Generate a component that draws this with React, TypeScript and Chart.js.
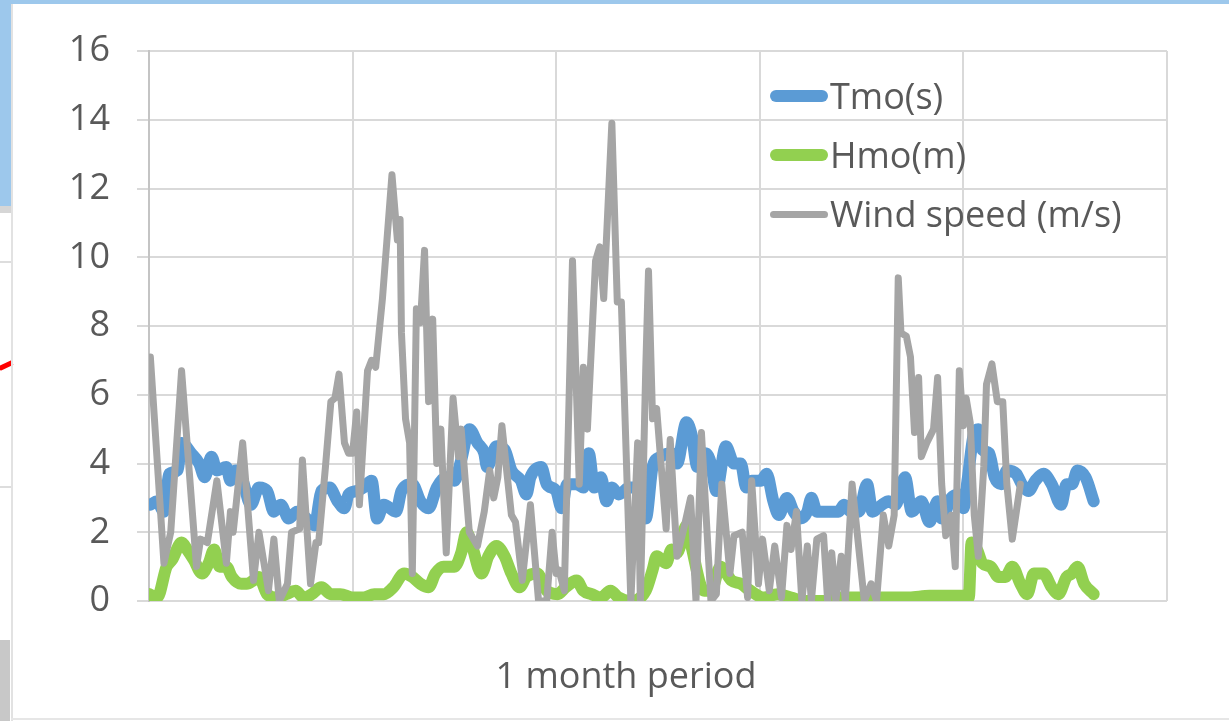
import React, { useEffect, useRef } from "react";
import { Chart, registerables } from "chart.js";

Chart.register(...registerables);

// Hours into the month (0..750) and the measured values at those times
const windHours = [1, 11, 16, 24, 35, 38, 43, 50, 57, 60, 62, 69, 77, 81, 88, 92, 96, 102, 105, 111, 113, 119, 123, 125, 130, 134, 137, 140, 144, 147, 150, 153, 155, 161, 164, 167, 172, 179, 183, 185, 186, 189, 192, 194, 197, 200, 203, 206, 209, 212, 215, 219, 224, 228, 230, 236, 242, 247, 251, 254, 257, 260, 267, 270, 275, 281, 287, 293, 297, 300, 302, 306, 312, 317, 320, 323, 329, 332, 335, 341, 345, 348, 355, 360, 362, 366, 368, 371, 374, 381, 384, 389, 394, 399, 403, 407, 414, 418, 422, 428, 431, 437, 441, 444, 449, 452, 457, 461, 466, 470, 473, 477, 481, 485, 488, 492, 497, 500, 503, 506, 510, 513, 518, 527, 532, 536, 541, 545, 549, 552, 554, 558, 561, 564, 567, 569, 573, 578, 581, 584, 587, 591, 594, 597, 600, 602, 605, 608, 611, 615, 617, 621, 625, 629, 632, 636, 639, 642];
const windSpeed = [7.1, 1.1, 2.0, 6.7, 1.0, 1.8, 1.7, 3.5, 1.1, 2.6, 2.0, 4.6, 0.6, 2.0, 0.3, 1.8, 0, 0.5, 2.0, 2.1, 4.1, 0.5, 1.7, 1.7, 3.9, 5.8, 5.9, 6.6, 4.6, 4.3, 4.3, 5.5, 2.8, 6.7, 7.0, 6.8, 8.8, 12.4, 10.5, 11.1, 7.8, 5.3, 4.6, 0.8, 8.5, 8.1, 10.2, 5.8, 8.2, 4.0, 5.0, 1.4, 5.9, 4.2, 5.0, 2.0, 1.6, 2.6, 3.8, 3.0, 3.6, 5.1, 2.5, 2.3, 0.6, 2.8, 0, 0, 2.0, 0.8, 0.9, 0.3, 9.9, 3.4, 6.8, 5.0, 9.9, 10.3, 8.8, 13.9, 8.7, 8.7, 0, 4.6, 0, 6.8, 9.6, 5.3, 5.6, 2.1, 4.7, 1.3, 2.1, 3.0, 0, 4.9, 0, 0.2, 3.4, 0.8, 1.9, 2.0, 0.1, 3.5, 0.5, 1.8, 0.3, 1.6, 0.1, 2.2, 1.5, 2.6, 0, 1.6, 0, 1.8, 1.9, 0, 1.4, 0, 1.3, 0, 3.4, 0, 0.5, 0, 2.5, 1.6, 2.5, 9.4, 7.8, 7.7, 7.1, 4.9, 6.5, 4.2, 4.6, 5.0, 6.5, 3.4, 1.9, 2.5, 1.0, 6.7, 5.1, 5.9, 5.2, 2.5, 1.3, 3.9, 6.3, 6.9, 5.8, 5.8, 3.4, 1.8, 2.6, 3.4];

const tmoHours = [1, 6, 11, 15, 21, 24, 31, 37, 41, 46, 50, 57, 60, 64, 69, 75, 81, 87, 92, 97, 103, 109, 116, 122, 127, 133, 139, 144, 147, 153, 158, 164, 168, 173, 182, 186, 194, 200, 206, 212, 219, 225, 230, 236, 242, 247, 249, 256, 262, 267, 274, 278, 281, 289, 293, 300, 304, 308, 315, 320, 324, 328, 333, 337, 341, 346, 354, 360, 366, 371, 377, 385, 389, 396, 400, 404, 410, 414, 418, 425, 431, 436, 440, 444, 451, 455, 460, 464, 470, 475, 480, 485, 488, 492, 499, 503, 508, 512, 517, 523, 529, 533, 540, 545, 550, 557, 562, 569, 575, 581, 584, 591, 597, 600, 603, 608, 611, 614, 619, 623, 628, 632, 639, 643, 648, 653, 659, 665, 672, 676, 680, 684, 690, 696];
const tmoValues = [2.8, 2.9, 2.6, 3.7, 3.8, 4.6, 4.3, 4.0, 3.6, 4.2, 3.8, 3.9, 3.5, 3.8, 3.5, 2.8, 3.3, 3.2, 2.6, 2.8, 2.4, 2.6, 2.4, 2.2, 3.2, 3.3, 2.9, 2.7, 3.1, 3.2, 3.3, 3.5, 2.4, 2.8, 2.6, 3.2, 3.4, 2.9, 2.7, 3.3, 3.6, 3.5, 4.1, 5.0, 4.6, 4.3, 3.9, 4.5, 4.4, 3.8, 3.5, 3.1, 3.6, 3.9, 3.4, 3.2, 2.7, 3.4, 3.4, 3.3, 4.3, 3.3, 3.6, 2.9, 3.3, 3.1, 3.3, 3.3, 2.4, 3.9, 4.2, 4.3, 4.0, 5.2, 4.8, 3.9, 4.3, 4.0, 3.2, 4.5, 4.0, 4.0, 3.3, 3.5, 3.5, 3.7, 2.9, 2.5, 3.0, 2.6, 2.4, 2.6, 3.0, 2.6, 2.6, 2.6, 2.6, 2.8, 2.6, 2.6, 3.4, 2.6, 2.8, 2.9, 2.8, 3.6, 2.6, 2.9, 2.3, 2.9, 2.4, 3.0, 3.1, 2.7, 3.5, 4.9, 5.0, 4.4, 4.3, 3.6, 3.4, 3.8, 3.7, 3.4, 3.2, 3.5, 3.7, 3.4, 2.8, 3.4, 3.4, 3.8, 3.6, 2.9];

const hmoHours = [0, 6, 13, 17, 24, 28, 33, 39, 44, 48, 52, 57, 61, 68, 72, 77, 81, 87, 94, 101, 108, 114, 120, 127, 134, 141, 150, 158, 166, 173, 180, 188, 194, 200, 206, 211, 217, 225, 230, 234, 238, 245, 250, 256, 262, 267, 273, 278, 286, 293, 301, 307, 315, 320, 326, 333, 340, 346, 354, 366, 371, 374, 381, 385, 389, 396, 399, 409, 414, 421, 429, 436, 443, 453, 463, 473, 483, 497, 510, 522, 545, 560, 575, 589, 600, 604, 606, 610, 614, 620, 626, 631, 636, 642, 647, 652, 659, 665, 670, 676, 680, 684, 689, 696];
const hmoValues = [0.2, 0.1, 1.0, 1.2, 1.7, 1.5, 1.2, 0.8, 1.1, 1.5, 1.0, 1.0, 0.7, 0.5, 0.5, 0.6, 0.7, 0.2, 0.1, 0.2, 0.3, 0.1, 0.2, 0.4, 0.2, 0.2, 0.1, 0.1, 0.2, 0.2, 0.4, 0.8, 0.7, 0.5, 0.4, 0.8, 1.0, 1.0, 1.4, 2.0, 1.6, 0.8, 1.3, 1.6, 1.3, 0.8, 0.4, 0.7, 0.8, 0.3, 0.2, 0.4, 0.6, 0.3, 0.2, 0.1, 0.3, 0.1, 0.0, 0.3, 0.9, 1.3, 1.1, 1.5, 1.4, 2.2, 1.7, 0.3, 0.3, 1.0, 0.6, 0.5, 0.3, 0.1, 0.2, 0.1, 0.0, 0.0, 0.1, 0.1, 0.1, 0.1, 0.15, 0.15, 0.15, 0.1, 1.7, 1.5, 1.1, 1.0, 0.7, 0.7, 1.0, 0.5, 0.2, 0.8, 0.8, 0.4, 0.2, 0.7, 0.8, 1.0, 0.5, 0.2];

const seriesNames = ["Tmo(s)", "Hmo(m)", "Wind speed (m/s)"];
const seriesColors = ["#5B9BD5", "#92D050", "#A5A5A5"];
const xTitle = "1 month period";

const FONT = "'Open Sans', 'Noto Sans', sans-serif";
const TEXT = "#595959";

const toPoints = (xs: number[], ys: number[]) => xs.map((x, i) => ({ x, y: ys[i] }));

export default function App() {
  const canvasRef = useRef<HTMLCanvasElement | null>(null);

  useEffect(() => {
    const canvas = canvasRef.current;
    if (!canvas) return;
    const chart = new Chart(canvas, {
      type: "line",
      data: {
        datasets: [
          {
            label: seriesNames[0],
            data: toPoints(tmoHours, tmoValues),
            borderColor: seriesColors[0],
            borderWidth: 12,
            cubicInterpolationMode: "monotone",
            pointRadius: 0,
            borderCapStyle: "round",
            borderJoinStyle: "round",
            order: 2,
          },
          {
            label: seriesNames[1],
            data: toPoints(hmoHours, hmoValues),
            borderColor: seriesColors[1],
            borderWidth: 12,
            cubicInterpolationMode: "monotone",
            pointRadius: 0,
            borderCapStyle: "round",
            borderJoinStyle: "round",
            order: 1,
          },
          {
            label: seriesNames[2],
            data: toPoints(windHours, windSpeed),
            borderColor: seriesColors[2],
            borderWidth: 7,
            tension: 0,
            pointRadius: 0,
            borderCapStyle: "round",
            borderJoinStyle: "round",
            order: 0,
          },
        ],
      },
      options: {
        animation: false,
        responsive: false,
        devicePixelRatio: 1,
        layout: { padding: { top: 51, right: 62, left: 0, bottom: 0 } },
        plugins: { legend: { display: false }, tooltip: { enabled: false } },
        scales: {
          x: {
            type: "linear",
            min: 0,
            max: 750,
            ticks: { display: false, stepSize: 150 },
            grid: { color: "#D9D9D9", lineWidth: 2, drawTicks: false },
            border: { display: false },
            afterFit: (s: any) => {
              s.height = 120;
            },
          },
          y: {
            min: 0,
            max: 16,
            ticks: {
              stepSize: 2,
              color: TEXT,
              padding: 27,
              font: { family: FONT, size: 36 },
            },
            grid: { color: "#D9D9D9", lineWidth: 2, tickLength: 12 },
            border: { color: "#C4C4C4", width: 2 },
            afterFit: (s: any) => {
              s.width = 149;
            },
          },
        },
      },
    });
    return () => chart.destroy();
  }, []);

  const legendRows = [96, 155, 214];

  return (
    <div
      style={{
        position: "fixed",
        left: 0,
        top: 0,
        width: 1229,
        height: 721,
        overflow: "hidden",
        background: "#FFFFFF",
        fontFamily: FONT,
      }}
    >
      {/* surrounding window edges */}
      <div style={{ position: "absolute", left: 0, top: 0, width: 1229, height: 4, background: "#9DC8EC" }} />
      <div style={{ position: "absolute", left: 0, top: 0, width: 11, height: 206, background: "#9DC8EC" }} />
      <div style={{ position: "absolute", left: 0, top: 206, width: 11, height: 7, background: "#D6D6D6" }} />
      <div style={{ position: "absolute", left: 0, top: 261, width: 11, height: 2, background: "#DDDDDD" }} />
      <div style={{ position: "absolute", left: 0, top: 486, width: 11, height: 2, background: "#DDDDDD" }} />
      <div
        style={{
          position: "absolute",
          left: -1,
          top: 363,
          width: 14,
          height: 5,
          background: "#FF0000",
          transform: "rotate(-25deg)",
        }}
      />
      <div style={{ position: "absolute", left: 0, top: 640, width: 10, height: 81, background: "#C8C8C8" }} />
      <div style={{ position: "absolute", left: 11, top: 4, width: 2, height: 717, background: "#E2E2E2" }} />
      <div style={{ position: "absolute", left: 11, top: 718, width: 1218, height: 2, background: "#E6E6E6" }} />

      <canvas
        ref={canvasRef}
        width={1229}
        height={721}
        style={{ position: "absolute", left: 0, top: 0, width: 1229, height: 721 }}
      />

      {seriesNames.map((name, i) => (
        <div
          key={name}
          style={{
            position: "absolute",
            left: 770,
            top: legendRows[i],
            transform: "translateY(-50%)",
            display: "flex",
            alignItems: "center",
            whiteSpace: "nowrap",
          }}
        >
          <div
            style={{
              width: 58,
              height: i === 2 ? 7 : 12,
              borderRadius: 6,
              background: seriesColors[i],
            }}
          />
          <span style={{ marginLeft: 2, fontSize: 36, color: TEXT, lineHeight: "44px" }}>{name}</span>
        </div>
      ))}

      <div
        style={{
          position: "absolute",
          left: 626,
          top: 675,
          transform: "translate(-50%, -50%)",
          fontSize: 36,
          color: TEXT,
          whiteSpace: "nowrap",
          lineHeight: "44px",
        }}
      >
        {xTitle}
      </div>
    </div>
  );
}
